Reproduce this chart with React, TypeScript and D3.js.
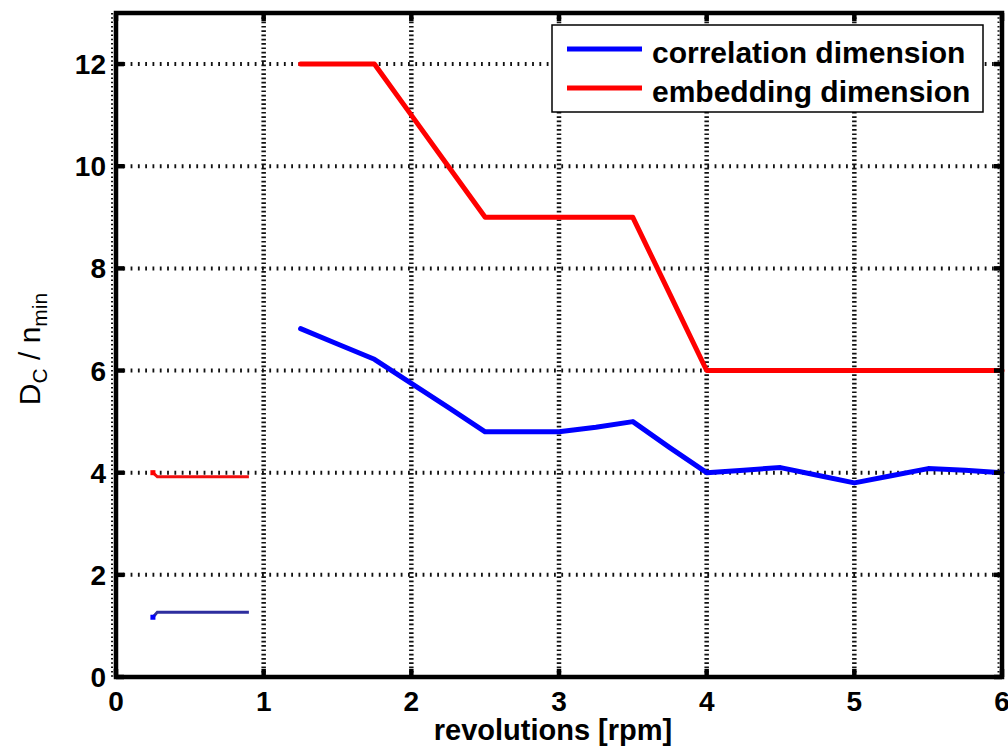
import React, { useEffect, useRef } from 'react';
import * as d3 from 'd3';

// revolutions [rpm] for the two measured ranges
const rpmLow = [0.25, 0.28, 0.9];
const rpmHigh = [1.25, 1.5, 1.75, 2, 2.25, 2.5, 2.75, 3, 3.25, 3.5, 3.75, 4, 4.25, 4.5, 4.75, 5, 5.25, 5.5, 5.75, 6];

// correlation dimension D_C
const corrLow = [1.17, 1.27, 1.27];
const corrHigh = [6.82, 6.52, 6.22, 5.75, 5.28, 4.8, 4.8, 4.8, 4.89, 5.0, 4.49, 4.0, 4.05, 4.1, 3.95, 3.8, 3.94, 4.08, 4.05, 4.0];

// embedding dimension n_min
const embLow = [4.0, 3.92, 3.92];
const embHigh = [12, 12, 12, 11, 10, 9, 9, 9, 9, 9, 7.5, 6, 6, 6, 6, 6, 6, 6, 6, 6];

const xTicks = [0, 1, 2, 3, 4, 5, 6];
const yTicks = [0, 2, 4, 6, 8, 10, 12];
const legendLabels = ['correlation dimension', 'embedding dimension'];

const App = () => {
  const ref = useRef(null);

  useEffect(() => {
    document.body.style.margin = '0';
    const svg = d3.select(ref.current);
    svg.selectAll('*').remove();

    const width = 1008;
    const height = 752;
    const left = 116, right = 1002, top = 13, bottom = 677;
    const font = "'Liberation Sans', Arial, sans-serif";

    const x = d3.scaleLinear().domain([0, 6]).range([left, right]);
    const y = d3.scaleLinear().domain([0, 13]).range([bottom, top]);

    svg.attr('viewBox', [0, 0, width, height]);
    svg.append('rect').attr('width', width).attr('height', height).attr('fill', 'white');

    // dotted grid
    const grid = svg.append('g').attr('stroke', '#111');
    grid.selectAll('line.v')
      .data(xTicks.filter(t => t > 0 && t < 6))
      .join('line')
      .attr('class', 'v')
      .attr('x1', d => x(d)).attr('x2', d => x(d))
      .attr('y1', top).attr('y2', bottom)
      .attr('stroke-width', 4.5)
      .attr('stroke-dasharray', '1.7,2.6');
    grid.selectAll('line.h')
      .data(yTicks.filter(t => t > 0))
      .join('line')
      .attr('class', 'h')
      .attr('x1', left).attr('x2', right)
      .attr('y1', d => y(d)).attr('y2', d => y(d))
      .attr('stroke-width', 4)
      .attr('stroke-dasharray', '1.8,5.5');

    // the lines
    const line = d3.line()
      .x(d => x(d[0]))
      .y(d => y(d[1]));

    const series = [
      { low: corrLow, high: corrHigh, color: '#0000ff', lowColor: '#2e2e9e' },
      { low: embLow, high: embHigh, color: '#ff0000', lowColor: '#f21010' },
    ];

    series.forEach(s => {
      const lowPts = rpmLow.map((r, i) => [r, s.low[i]]);
      const highPts = rpmHigh.map((r, i) => [r, s.high[i]]);
      svg.append('path')
        .attr('d', line(lowPts))
        .attr('fill', 'none')
        .attr('stroke', s.lowColor)
        .attr('stroke-width', 3);
      svg.append('rect')
        .attr('x', x(lowPts[0][0]) - 2.5)
        .attr('y', y(lowPts[0][1]) - 2.5)
        .attr('width', 5).attr('height', 5)
        .attr('fill', s.color);
      svg.append('path')
        .attr('d', line(highPts))
        .attr('fill', 'none')
        .attr('stroke', s.color)
        .attr('stroke-width', 5)
        .attr('stroke-linejoin', 'round')
        .attr('stroke-linecap', 'round');
    });

    // minor marks along the side spines
    svg.append('line')
      .attr('x1', left - 4).attr('x2', left - 4)
      .attr('y1', top).attr('y2', bottom)
      .attr('stroke', '#111').attr('stroke-width', 2)
      .attr('stroke-dasharray', '1.5,2.8');
    svg.append('line')
      .attr('x1', right - 3.5).attr('x2', right - 3.5)
      .attr('y1', top).attr('y2', bottom)
      .attr('stroke', '#111').attr('stroke-width', 2)
      .attr('stroke-dasharray', '1.5,2.8');

    // box
    svg.append('rect')
      .attr('x', left).attr('y', top)
      .attr('width', right - left).attr('height', bottom - top)
      .attr('fill', 'none')
      .attr('stroke', 'black')
      .attr('stroke-width', 4.5);

    // major ticks, inward on all four sides
    const ticks = svg.append('g').attr('stroke', 'black').attr('stroke-width', 4.5);
    xTicks.forEach(t => {
      ticks.append('line').attr('x1', x(t)).attr('x2', x(t)).attr('y1', bottom).attr('y2', bottom - 8);
      ticks.append('line').attr('x1', x(t)).attr('x2', x(t)).attr('y1', top).attr('y2', top + 8);
    });
    yTicks.forEach(t => {
      ticks.append('line').attr('x1', left).attr('x2', left + 8).attr('y1', y(t)).attr('y2', y(t));
      ticks.append('line').attr('x1', right).attr('x2', right - 8).attr('y1', y(t)).attr('y2', y(t));
    });

    // tick labels
    svg.append('g')
      .selectAll('text')
      .data(xTicks)
      .join('text')
      .attr('x', d => x(d))
      .attr('y', 711)
      .attr('text-anchor', 'middle')
      .attr('font-family', font)
      .attr('font-weight', 'bold')
      .attr('font-size', 28)
      .text(d => d);
    svg.append('g')
      .selectAll('text')
      .data(yTicks)
      .join('text')
      .attr('x', 106)
      .attr('y', d => y(d) + 10)
      .attr('text-anchor', 'end')
      .attr('font-family', font)
      .attr('font-weight', 'bold')
      .attr('font-size', 28)
      .text(d => d);

    // axis titles
    svg.append('text')
      .attr('x', 553)
      .attr('y', 740)
      .attr('text-anchor', 'middle')
      .attr('font-family', font)
      .attr('font-weight', 'bold')
      .attr('font-size', 29)
      .text('revolutions [rpm]');

    const yTitle = svg.append('text')
      .attr('transform', 'translate(40,349) rotate(-90)')
      .attr('text-anchor', 'middle')
      .attr('font-family', font)
      .attr('font-size', 30);
    yTitle.append('tspan').text('D');
    yTitle.append('tspan').attr('font-size', 21).attr('dy', 7).text('C');
    yTitle.append('tspan').attr('dy', -7).text(' / n');
    yTitle.append('tspan').attr('font-size', 21).attr('dy', 7).text('min');

    // legend
    const legend = svg.append('g');
    legend.append('rect')
      .attr('x', 552).attr('y', 25)
      .attr('width', 431).attr('height', 87)
      .attr('fill', 'white')
      .attr('stroke', 'black')
      .attr('stroke-width', 1.5);
    legendLabels.forEach((label, i) => {
      const ly = 49 + i * 39;
      legend.append('line')
        .attr('x1', 567).attr('x2', 642)
        .attr('y1', ly).attr('y2', ly)
        .attr('stroke', series[i].color)
        .attr('stroke-width', 5);
      legend.append('text')
        .attr('x', 652)
        .attr('y', ly + 14)
        .attr('font-family', font)
        .attr('font-weight', 'bold')
        .attr('font-size', 30)
        .text(label);
    });
  }, []);

  return <svg ref={ref} width={1008} height={752} style={{ display: 'block' }} />;
};

export default App;
